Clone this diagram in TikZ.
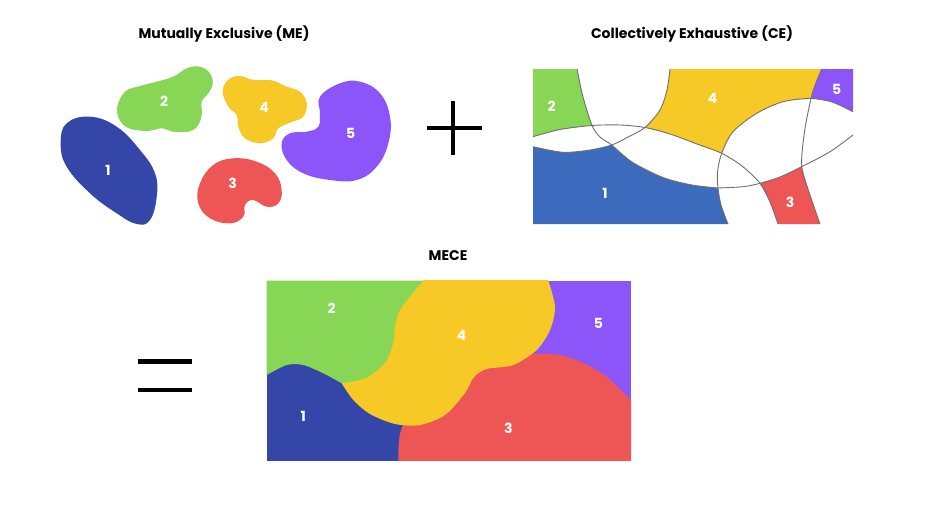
\documentclass[tikz,border=0pt]{standalone}
\usepackage{fontspec}
\setmainfont{Poppins}
\definecolor{cblue}{HTML}{3446A8}
\definecolor{cblueb}{HTML}{3C6BBE}
\definecolor{cgreen}{HTML}{88D656}
\definecolor{cyellow}{HTML}{F6C926}
\definecolor{cpurple}{HTML}{8C55FA}
\definecolor{cred}{HTML}{EE5656}
\definecolor{cline}{HTML}{707070}
\begin{document}
\begin{tikzpicture}[x=1pt,y=-1pt,
  lbl/.style={text=white,font=\bfseries\fontsize{14}{14}\selectfont,inner sep=0pt},
  ttl/.style={text=black,font=\bfseries\fontsize{14}{14}\selectfont,inner sep=0pt},
  arcline/.style={draw=cline,line width=0.9pt},
  sign/.style={draw=black,line width=4pt}]
\useasboundingbox[fill=white] (0,0) rectangle (937,514);

% ---------- titles ----------
\node[ttl] (tme) at (224,34) {Mutually Exclusive (ME)};
\node[ttl] (tce) at (692,34) {Collectively Exhaustive (CE)};
\node[ttl] (tmece) at (448,256) {MECE};

% ---------- ME blobs ----------
\fill[cblue] plot[smooth cycle,tension=0.7] coordinates {(66.7,123.3) (90,116.7) (116.7,126.7) (140,150) (155,173.3) (156.7,196.7) (150,220) (136.7,224) (116.7,213.3) (90,193.3) (66.7,166.7) (60.7,143.3)};
\fill[cgreen] plot[smooth cycle,tension=0.6] coordinates {(117.3,108.3) (125,91.7) (140,86) (156.7,81.7) (173.3,76.7) (186.7,68.3) (198.3,66.7) (209.3,73.3) (212.7,83.3) (208.3,93.3) (201.7,101.7) (201.7,115) (196.7,126) (186.7,131.7) (173.3,131.7) (161.7,128.3) (150,130.7) (136.7,130) (122.7,124)};
\fill[cgreen] (137,110) circle[radius=20pt];
\fill[cgreen] (164,104) circle[radius=22pt];
\fill[cgreen] (197,82) circle[radius=15.5pt];
\fill[cgreen] (185,116) circle[radius=16pt];
\fill[cyellow] plot[smooth cycle,tension=0.6] coordinates {(222.7,91.7) (227.3,80.7) (238.3,76) (250,79.3) (260,80) (273.3,80.7) (286.7,86.7) (300,91.7) (306.7,103.3) (303.3,116.7) (290,122.7) (278.3,128.3) (273.3,138.3) (260,143.3) (245,138.3) (238.3,126.7) (236.7,115) (228.3,106.7)};
\fill[cyellow] (239,92) circle[radius=16pt];
\fill[cyellow] (266,94) circle[radius=14pt];
\fill[cyellow] (291,105) circle[radius=15.5pt];
\fill[cyellow] (258,123) circle[radius=19.5pt];
\fill[cred] plot[smooth cycle,tension=0.7] coordinates {(200,183.3) (213.3,165) (233.3,158.3) (256.7,161.7) (275,173.3) (281.7,190) (278.3,203.3) (266.7,206.7) (253.3,200) (245,205) (243.3,216.7) (230,223.3) (210,218.3) (198.3,203.3)};
\fill[cpurple] plot[smooth cycle,tension=0.7] coordinates {(320,96.7) (340,83.3) (360,81.7) (380,93.3) (390,116.7) (388.3,143.3) (376.7,166.7) (356.7,180) (330,180) (303.3,173.3) (286.7,160) (281.7,143.3) (290,133.3) (306.7,131.7) (318.3,126.7) (320,113.3)};
\node[lbl] (me1) at (108,170) {1};
\node[lbl] (me2) at (164,101.7) {2};
\node[lbl] (me3) at (232.7,183.3) {3};
\node[lbl] (me4) at (264,107.3) {4};
\node[lbl] (me5) at (350.7,133.3) {5};

% ---------- plus ----------
\draw[sign] (427.3,128.3) -- (481.7,128.3);
\draw[sign] (453.3,101) -- (453.3,155);

% ---------- CE panel ----------
% green
\fill[cgreen] (533,69) -- plot[smooth] coordinates {(577,69) (583,97) (592,125.5)} -- plot[smooth] coordinates {(592,125.5) (560,129.5) (533,136.7)} -- cycle;
% yellow
\fill[cyellow] (670,69) -- plot[smooth] coordinates {(821.7,69) (815.5,84) (811,98.5)} -- plot[smooth] coordinates {(811,98.5) (783,101.7) (756.7,113.3) (733,131.7) (721.7,153.3)} -- plot[smooth] coordinates {(721.7,153.3) (697,144) (670,134) (645,127.5)} -- plot[smooth] coordinates {(645,127.5) (660,110) (667,90) (670,69)} -- cycle;
% purple
\fill[cpurple] (821.7,69) -- (853,69) -- (853,111.7) -- plot[smooth] coordinates {(853,111.7) (832,102) (811,98.5)} -- plot[smooth] coordinates {(811,98.5) (815.5,84) (821.7,69)} -- cycle;
% blue
\fill[cblueb] plot[smooth] coordinates {(533,146.7) (563,152.3) (590,150) (611.7,145)} -- plot[smooth] coordinates {(611.7,145) (632,162) (663,177.5) (692,185) (718,188)} -- plot[smooth] coordinates {(718,188) (721,205) (728,224)} -- (533,224) -- cycle;
% red
\fill[cred] plot[smooth] coordinates {(760,183.3) (770,202) (778,224)} -- (820,224) -- plot[smooth] coordinates {(820,224) (810,195) (801.7,166.7)} -- plot[smooth] coordinates {(801.7,166.7) (780,177) (760,183.3)} -- cycle;
% outlines (full smooth curves)
\draw[arcline] plot[smooth] coordinates {(533,136.7) (560,129.5) (592,125.5) (620,125) (645,127.5) (670,134) (697,144) (721.7,153.3) (742,166) (760,183.3) (770,202) (778,224)};
\draw[arcline] plot[smooth] coordinates {(577,69) (583,97) (592,125.5) (600,137) (611.7,145) (632,162) (663,177.5) (692,185) (718,188)};
\draw[arcline] plot[smooth] coordinates {(533,146.7) (563,152.3) (590,150) (611.7,145) (628,137) (645,127.5) (660,110) (667,90) (670,69)};
\draw[arcline] plot[smooth] coordinates {(728,224) (721,205) (718,188) (717.5,172) (721.7,153.3) (733,131.7) (756.7,113.3) (783,101.7) (811,98.5) (832,102) (853,111.7)};
\draw[arcline] plot[smooth] coordinates {(718,188) (743,186.7) (760,183.3) (780,177) (801.7,166.7) (830,151.7) (853,135)};
\draw[arcline] plot[smooth] coordinates {(821.7,69) (815.5,84) (811,98.5) (804.5,131.7) (801.7,166.7) (810,195) (820,224)};
\node[lbl] (ce1) at (605,193.3) {1};
\node[lbl] (ce2) at (551.7,106.7) {2};
\node[lbl] (ce3) at (790,202) {3};
\node[lbl] (ce4) at (712.7,98.3) {4};
\node[lbl] (ce5) at (836.7,89) {5};

% ---------- equals ----------
\draw[sign,line width=4.5pt] (138,361.5) -- (192,361.5);
\draw[sign,line width=4.5pt] (138,390) -- (192,390);

% ---------- MECE panel ----------
\begin{scope}
\clip (266.7,280.7) rectangle (631,460.7);
\fill[cpurple] (266.7,280.7) rectangle (631,460.7);
\fill[cblue] (266.7,340) rectangle (420,460.7);
\fill[cgreen] (266.7,280.7) -- (440,280.7) -- (440,386) -- plot[smooth] coordinates {(341.7,383.3) (323.3,373.3) (303.3,365) (286.7,365) (266.7,375)} -- cycle;
\fill[cred] plot[smooth] coordinates {(398.3,461) (401,430) (420,400) (460,375) (510,356) (560,355) (600,372) (631,400)} -- (631,461) -- cycle;
\fill[cyellow] (423.3,270) -- (548.3,270) -- plot[smooth] coordinates {(548.3,280.7) (555,306.7) (550,330) (536.7,350) (513.3,365) (486.7,369) (474,377) (465,393) (445,415) (420,425) (395,424) (370,414) (353.3,400) (341.7,383.3)} -- plot[smooth] coordinates {(341.7,383.3) (366,378) (385,363) (393.3,343) (395,326.7) (399,311.7) (408,299) (423.3,280.7)} -- cycle;
\end{scope}
\node[lbl] (m1) at (303.3,416.7) {1};
\node[lbl] (m2) at (331.7,308.3) {2};
\node[lbl] (m3) at (508.3,428.3) {3};
\node[lbl] (m4) at (461.7,335) {4};
\node[lbl] (m5) at (598.3,323.3) {5};
\end{tikzpicture}
\end{document}
